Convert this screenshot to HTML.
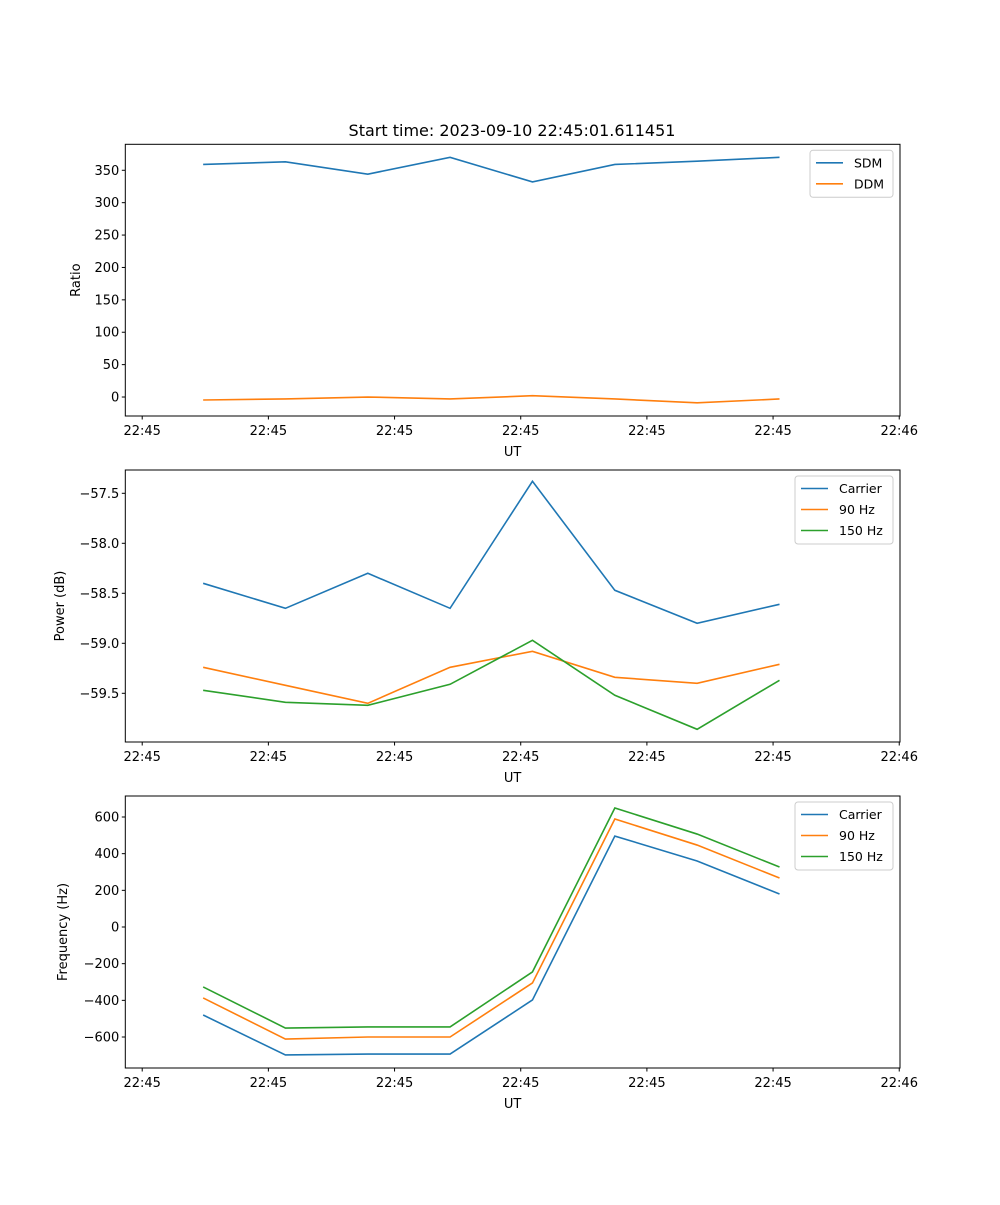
<!DOCTYPE html>
<html><head><meta charset="utf-8"><style>
body{margin:0;background:#fff;}
svg text{font-family:"DejaVu Sans","Liberation Sans",sans-serif;fill:#000;}
</style></head><body>
<svg id="fig" width="1000" height="1200" xmlns="http://www.w3.org/2000/svg">
<rect width="1000" height="1200" fill="#fff"/>
<text x="512" y="136" font-size="16" text-anchor="middle">Start time: 2023-09-10 22:45:01.611451</text>
</svg>
<script>
const times=[4.83,11.35,17.88,24.4,30.93,37.46,43.98,50.51];
const xTickVals=[0,10,20,30,40,50,60];
const xTickLabels=["22:45","22:45","22:45","22:45","22:45","22:45","22:46"];
const sdm=[359,363,344,370,332,359,364,370];
const ddm=[-4.6,-3,0,-3,2,-3,-9,-3];
const pCarrier=[-58.40,-58.65,-58.30,-58.65,-57.38,-58.47,-58.80,-58.61];
const p90=[-59.24,-59.42,-59.60,-59.24,-59.08,-59.34,-59.40,-59.21];
const p150=[-59.47,-59.59,-59.62,-59.41,-58.97,-59.52,-59.86,-59.37];
const fCarrier=[-480,-698,-693,-693,-398,496,360,180];
const f90=[-387,-611,-600,-600,-305,589,447,267];
const f150=[-327,-551,-545,-545,-245,649,507,327];
const ticks1=[0,50,100,150,200,250,300,350];
const ticks2=[-59.5,-59.0,-58.5,-58.0,-57.5];
const ticks3=[-600,-400,-200,0,200,400,600];
const C=["#1f77b4","#ff7f0e","#2ca02c"];
const NS="http://www.w3.org/2000/svg";
const svg=document.getElementById('fig');
function el(tag,attrs,parent,txt){const e=document.createElementNS(NS,tag);for(const k in attrs)e.setAttribute(k,attrs[k]);if(txt!==undefined)e.textContent=txt;(parent||svg).appendChild(e);return e;}
const L=125.3,R=900;
const xs=t=>L+(t+1.34)*(R-L)/(60.06+1.34);
function fmt(v,dec){let s=v.toFixed(dec);return s.replace('-','\u2212');}
function panel(id,top,bottom,ymin,ymax,ticks,dec,ylabel,series,names,legW){
  const g=el('g',{},svg);
  
  
  const ys=v=>bottom-(v-ymin)*(bottom-top)/(ymax-ymin);
  el('rect',{x:L,y:top,width:R-L,height:bottom-top,fill:'#fff'},g);
  series.forEach((s,i)=>{
    const p=el('polyline',{points:s.map((v,j)=>xs(times[j]).toFixed(2)+','+ys(v).toFixed(2)).join(' '),fill:'none',stroke:C[i],'stroke-width':1.6},g);
    
    
  });
  const fr=el('rect',{x:L,y:top,width:R-L,height:bottom-top,fill:'none',stroke:'#000','stroke-width':1},g);
  
  
  ticks.forEach(v=>{const y=ys(v);el('line',{x1:L-3.5,x2:L,y1:y,y2:y,stroke:'#000'},g);
    const t=el('text',{x:L-6,y:y+4.5,'font-size':13,'text-anchor':'end'},g,fmt(v,dec));
    
    });
  xTickVals.forEach((v,i)=>{const x=xs(v);el('line',{x1:x,x2:x,y1:bottom,y2:bottom+3.5,stroke:'#000'},g);
    const t=el('text',{x:x,y:bottom+19,'font-size':13,'text-anchor':'middle'},g,xTickLabels[i]);
    
    });
  const xl=el('text',{x:(L+R)/2,y:bottom+40,'font-size':13,'text-anchor':'middle'},g,'UT');
  
  
  const cy=(top+bottom)/2;
  const yl=el('text',{x:0,y:0,'font-size':13,'text-anchor':'middle',transform:`translate(${ylabel.x},${cy}) rotate(-90)`},g,ylabel.t);
  
  
  const lx=R-7-legW,ly=top+6,lh=5+names.length*21;
  const lg=el('g',{},g);
  
  
  el('rect',{x:lx,y:ly,width:legW,height:lh,rx:3,fill:'#fff',stroke:'#ccc','fill-opacity':0.8},lg);
  names.forEach((n,i)=>{const yy=ly+12.5+i*21;
    el('line',{x1:lx+6,x2:lx+33,y1:yy,y2:yy,stroke:C[i],'stroke-width':1.6},lg);
    const t=el('text',{x:lx+44,y:yy+4.5,'font-size':12.5},lg,n);
    
    });
}
panel('ratio',144.3,416,-29.3,390.1,ticks1,0,{x:80,t:'Ratio'},[sdm,ddm],['SDM','DDM'],83);
panel('power',470,742,-59.987,-57.267,ticks2,1,{x:64,t:'Power (dB)'},[pCarrier,p90,p150],['Carrier','90 Hz','150 Hz'],98);
panel('frequency',796,1068,-769,714.5,ticks3,0,{x:67,t:'Frequency (Hz)'},[fCarrier,f90,f150],['Carrier','90 Hz','150 Hz'],98);
</script>
</body></html>
